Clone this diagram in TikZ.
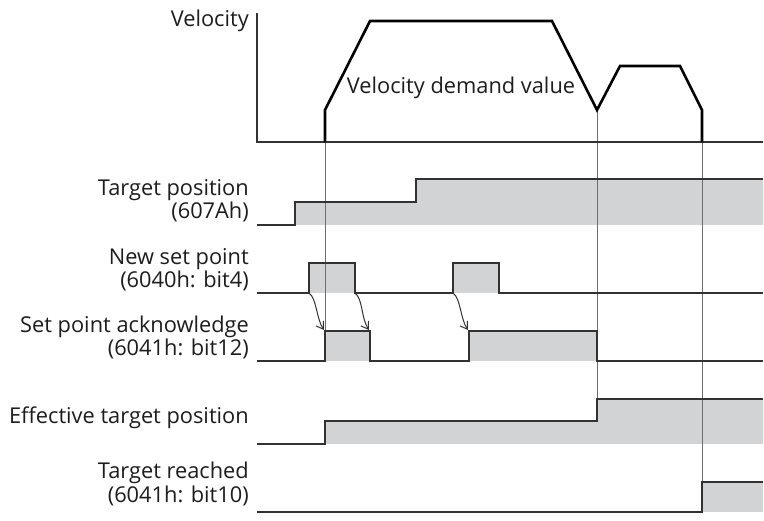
\documentclass[tikz,border=0pt]{standalone}
\usepackage{xcolor}
\usepackage{fontspec}
\setmainfont{Open Sans}
\usepackage{tikz}
\usetikzlibrary{arrows.meta}

\begin{document}
\begin{tikzpicture}[x=1pt,y=-1pt,
    sig/.style={line width=1.4pt,sdark,line join=miter},
    sigfill/.style={fill=lgray},
    guide/.style={line width=1pt,lguide},
    lbl/.style={font=\fontsize{21.8}{26}\selectfont,text=ltext,inner sep=0pt,anchor=base east},
    ackarrow/.style={-{Straight Barb[length=7pt,width=9pt]},line width=1pt,sdark}]
  \definecolor{lgray}{RGB}{209,211,212}
  \definecolor{sdark}{RGB}{50,50,50}
  \definecolor{lguide}{RGB}{110,110,110}
  \definecolor{ltext}{RGB}{30,28,28}
  \useasboundingbox (0,0) rectangle (764,521);
  % gray areas
  \fill[sigfill] (295,225) -- (295,202) -- (416,202) -- (416,179) -- (763,179) -- (763,225) -- cycle;
  \fill[sigfill] (309,293) rectangle (355,263);
  \fill[sigfill] (453,293) rectangle (499,263);
  \fill[sigfill] (325,361) rectangle (370,331);
  \fill[sigfill] (469,361) rectangle (597,331);
  \fill[sigfill] (325,444) -- (325,421) -- (597,421) -- (597,399) -- (763,399) -- (763,444) -- cycle;
  \fill[sigfill] (702,512) rectangle (763,482);
  % guide lines
  \draw[guide] (325,142) -- (325,361);
  \draw[guide] (597,110) -- (597,399);
  \draw[guide] (702,142) -- (702,482);
  % velocity
  \draw[line width=1.2pt,sdark] (257,13) -- (257,142) -- (763,142);
  \draw[line width=2.6pt,black] (325,142) -- (325,110) -- (370,21) -- (552,21) -- (597,110)
    -- (620,66) -- (680,66) -- (702,110) -- (702,142);
  \node[lbl,anchor=base] (vdv) at (461,94) {Velocity demand value};
  % signals
  \draw[sig] (257,225) -- (295,225) -- (295,202) -- (416,202) -- (416,179) -- (763,179);
  \draw[sig] (257,293) -- (309,293) -- (309,263) -- (355,263) -- (355,293) -- (453,293)
    -- (453,263) -- (499,263) -- (499,293) -- (763,293);
  \draw[sig] (257,361) -- (325,361) -- (325,331) -- (370,331) -- (370,361) -- (469,361)
    -- (469,331) -- (597,331) -- (597,361) -- (763,361);
  \draw[sig] (257,444) -- (325,444) -- (325,421) -- (597,421) -- (597,399) -- (763,399);
  \draw[sig] (257,512) -- (702,512) -- (702,482) -- (763,482);
  % handshake arrows
  \coordinate (nsp1) at (309,293);
  \coordinate (nsp2) at (355,293);
  \coordinate (nsp3) at (453,293);
  \coordinate (spa1) at (324,330);
  \coordinate (spa2) at (369,330);
  \coordinate (spa3) at (468,330);
  \draw[ackarrow] (nsp1) .. controls +(8,6) and +(-8,-12) .. (spa1);
  \draw[ackarrow] (nsp2) .. controls +(8,6) and +(-8,-12) .. (spa2);
  \draw[ackarrow] (nsp3) .. controls +(8,6) and +(-8,-12) .. (spa3);
  % labels
  \node[lbl] (vel) at (249,27) {Velocity};
  \node[lbl] (tpos) at (249,196) {Target position};
  \node[lbl] (tposreg) at (249,219) {(607Ah)};
  \node[lbl] (nsp) at (249,265) {New set point};
  \node[lbl] (nspreg) at (249,288) {(6040h: bit4)};
  \node[lbl] (spa) at (249,333) {Set point acknowledge};
  \node[lbl] (spareg) at (249,356) {(6041h: bit12)};
  \node[lbl] (etp) at (249,424) {Effective target position};
  \node[lbl] (trd) at (249,479) {Target reached};
  \node[lbl] (trdreg) at (249,503) {(6041h: bit10)};
\end{tikzpicture}
\end{document}
